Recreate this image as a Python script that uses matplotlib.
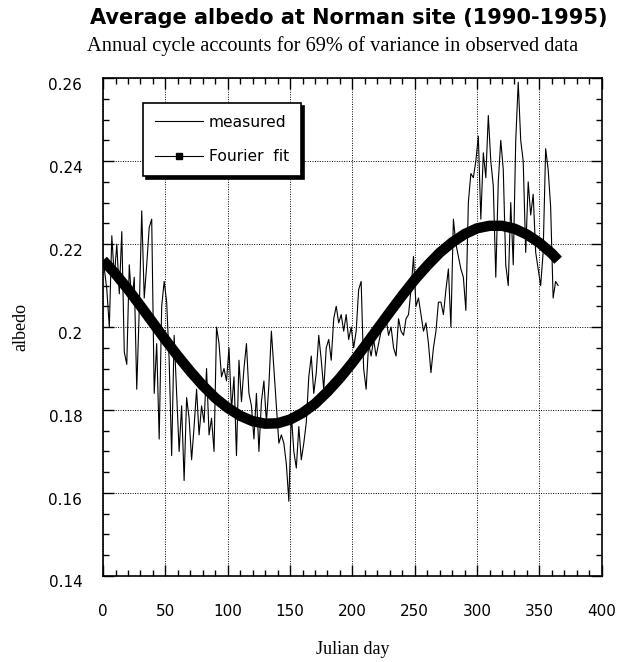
import numpy as np
import matplotlib
matplotlib.use("Agg")
import matplotlib.pyplot as plt
import matplotlib.transforms as mtransforms
from matplotlib.lines import Line2D
from matplotlib.ticker import MultipleLocator

# ==================== DATA ====================

# daily mean albedo, sampled every other Julian day (1, 3, ..., 365)
albedo_measured = [
    0.214, 0.209, 0.200, 0.222, 0.212, 0.220, 0.208, 0.223, 0.194, 0.191,
    0.215, 0.206, 0.212, 0.185, 0.204, 0.228, 0.207, 0.215, 0.224, 0.226,
    0.184, 0.196, 0.173, 0.205, 0.211, 0.206, 0.192, 0.169, 0.198, 0.184,
    0.170, 0.181, 0.163, 0.183, 0.178, 0.168, 0.176, 0.185, 0.174, 0.181,
    0.177, 0.190, 0.174, 0.178, 0.170, 0.200, 0.196, 0.188, 0.190, 0.187,
    0.195, 0.180, 0.188, 0.169, 0.192, 0.182, 0.190, 0.196, 0.184, 0.181,
    0.173, 0.184, 0.170, 0.182, 0.187, 0.177, 0.186, 0.199, 0.190, 0.181,
    0.172, 0.174, 0.172, 0.167, 0.158, 0.179, 0.170, 0.166, 0.176, 0.168,
    0.172, 0.177, 0.188, 0.193, 0.184, 0.189, 0.198, 0.192, 0.185, 0.195,
    0.197, 0.192, 0.202, 0.205, 0.201, 0.203, 0.199, 0.203, 0.197, 0.200,
    0.195, 0.199, 0.209, 0.211, 0.190, 0.185, 0.196, 0.193, 0.197, 0.193,
    0.196, 0.199, 0.201, 0.202, 0.198, 0.200, 0.195, 0.193, 0.202, 0.199,
    0.198, 0.202, 0.203, 0.209, 0.217, 0.205, 0.207, 0.203, 0.199, 0.201,
    0.196, 0.189, 0.195, 0.199, 0.206, 0.206, 0.203, 0.209, 0.214, 0.200,
    0.226, 0.220, 0.217, 0.214, 0.212, 0.204, 0.230, 0.237, 0.236, 0.240,
    0.246, 0.226, 0.242, 0.236, 0.251, 0.240, 0.234, 0.212, 0.235, 0.245,
    0.238, 0.215, 0.210, 0.230, 0.215, 0.245, 0.259, 0.245, 0.240, 0.218,
    0.235, 0.227, 0.232, 0.218, 0.214, 0.210, 0.218, 0.243, 0.238, 0.229,
    0.207, 0.211, 0.210,
]
days_measured = np.arange(1, 366, 2)

# annual-cycle (Fourier) fit
days_fit = [0, 10, 20, 30, 40, 50, 60, 70, 80, 90, 100, 110, 120, 130, 140,
            150, 160, 170, 180, 190, 200, 210, 220, 230, 240, 250, 260, 270,
            280, 290, 300, 310, 320, 330, 340, 350, 360, 365]
albedo_fit = [0.2161, 0.2128, 0.2091, 0.2051, 0.2010, 0.1969, 0.1930, 0.1893,
              0.1859, 0.1829, 0.1805, 0.1786, 0.1773, 0.1767, 0.1768, 0.1777,
              0.1793, 0.1815, 0.1844, 0.1877, 0.1914, 0.1954, 0.1995, 0.2036,
              0.2076, 0.2114, 0.2148, 0.2179, 0.2204, 0.2224, 0.2238, 0.2244,
              0.2244, 0.2237, 0.2223, 0.2203, 0.2177, 0.2161]

x_ticks = [0, 50, 100, 150, 200, 250, 300, 350, 400]
y_ticks = [0.14, 0.16, 0.18, 0.2, 0.22, 0.24, 0.26]
y_ticklabels = ["0.14", "0.16", "0.18", "0.2", "0.22", "0.24", "0.26"]

# ==================== FIGURE ====================

fig = plt.figure(figsize=(6.21, 6.62), dpi=100)
ax = fig.add_axes([0.166, 0.130, 0.803, 0.752])

ax.plot(days_measured, albedo_measured, color="black", lw=0.8)
ax.plot(days_fit, albedo_fit, color="black", lw=7.5, solid_capstyle="butt")

ax.set_xlim(0, 400)
ax.set_ylim(0.14, 0.26)
ax.set_xticks(x_ticks)
ax.set_yticks(y_ticks)
ax.set_yticklabels(y_ticklabels)
ax.xaxis.set_minor_locator(MultipleLocator(10))
ax.yaxis.set_minor_locator(MultipleLocator(0.005))

ax.tick_params(which="both", direction="in", top=True, right=True,
               width=1, color="black")
ax.tick_params(which="major", length=8)
ax.tick_params(which="minor", length=4)
ax.tick_params(axis="x", which="major", pad=20, labelsize=11)
ax.tick_params(axis="y", which="major", pad=15, labelsize=11)

# y labels sit a little below their ticks
shift = mtransforms.ScaledTranslation(0, -4 / 72, fig.dpi_scale_trans)
for lab in ax.get_yticklabels():
    lab.set_transform(lab.get_transform() + shift)

ax.grid(True, which="major", color="black", linestyle=(0, (1, 1.5)), lw=0.7)
for sp in ax.spines.values():
    sp.set_linewidth(1.2)

ax.set_xlabel("Julian day", family="Liberation Serif", fontsize=13, labelpad=16)
ax.set_ylabel("albedo", family="Liberation Serif", fontsize=13, labelpad=14)

fig.text(0.562, 0.988, "Average albedo at Norman site (1990-1995)",
         ha="center", va="top", fontsize=15, fontweight="bold")
fig.text(0.535, 0.946, "Annual cycle accounts for 69% of variance in observed data",
         ha="center", va="top", fontsize=14.7, family="Liberation Serif")

handles = [
    Line2D([], [], color="black", lw=0.8),
    Line2D([], [], color="black", lw=0.8, marker="s", markersize=4),
]
leg = ax.legend(handles, ["measured", "Fourier  fit"], loc="upper left",
                bbox_to_anchor=(0.08, 0.95), borderaxespad=0, fontsize=11.2,
                frameon=True, fancybox=False,
                shadow={"facecolor": "black", "edgecolor": "black", "alpha": 1,
                        "ox": 2.5, "oy": -2.5},
                borderpad=0.75, labelspacing=1.25, handlelength=3.1,
                handletextpad=0.4, edgecolor="black", framealpha=1)
leg.get_frame().set_linewidth(1.2)

fig.savefig("out.png", dpi=100)
